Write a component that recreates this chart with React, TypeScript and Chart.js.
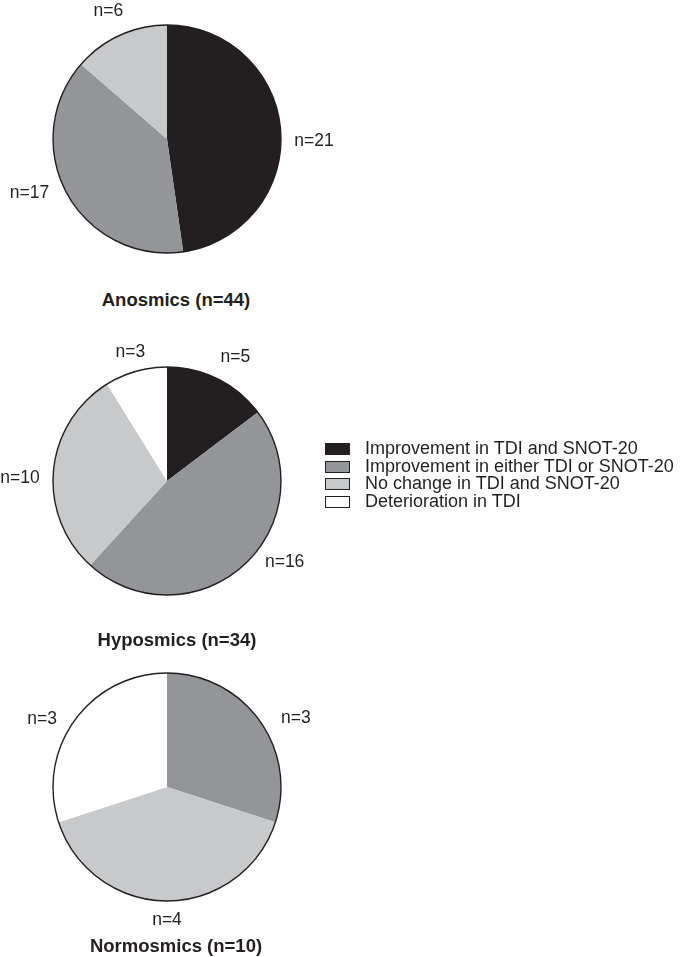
import React, { useEffect, useRef } from "react";
import { Chart, registerables } from "chart.js";

Chart.register(...registerables);

// ---- data ----
const CATEGORIES = [
  "Improvement in TDI and SNOT-20",
  "Improvement in either TDI or SNOT-20",
  "No change in TDI and SNOT-20",
  "Deterioration in TDI",
];
const COLORS = ["#231f20", "#939598", "#c8c9cb", "#ffffff"];
const GROUP_TITLES = ["Anosmics (n=44)", "Hyposmics (n=34)", "Normosmics (n=10)"];
const ANOSMICS = [21, 17, 6, 0];
const HYPOSMICS = [5, 16, 10, 3];
const NORMOSMICS = [0, 3, 4, 3];
const SERIES = [ANOSMICS, HYPOSMICS, NORMOSMICS];

// ---- layout / style ----
const INK = "#231f20";
const FONT = '"Liberation Sans", Arial, Helvetica, sans-serif';
const RADIUS = 114;
const CANVAS_W = 340;
const CANVAS_H = 300;
const PIE_CENTERS = [
  { x: 167, y: 139 },
  { x: 167, y: 481 },
  { x: 167, y: 787 },
];
const TITLE_POS = [
  { x: 176, y: 300 },
  { x: 177, y: 640 },
  { x: 176, y: 946 },
];
// label placement: [angle nudge (deg, clockwise), extra distance beyond radius]
const LABEL_NUDGE = [
  [[5, 33], [7, 34], [0, 27], [0, 28]],
  [[2.5, 27], [-13, 29], [-4, 33], [0, 20]],
  [[0, 28], [8, 32], [0, 19], [-7.5, 28]],
];

const outlineAndLabels = {
  id: "outlineAndLabels",
  afterDatasetsDraw(chart: any, _args: any, opts: any) {
    const ctx = chart.ctx;
    const meta = chart.getDatasetMeta(0);
    const arcs = meta.data;
    if (!arcs.length) return;
    const first = arcs[0] as any;
    ctx.save();
    ctx.beginPath();
    ctx.arc(first.x, first.y, first.outerRadius, 0, Math.PI * 2);
    ctx.lineWidth = 1.4;
    ctx.strokeStyle = INK;
    ctx.stroke();
    ctx.font = `17.5px ${FONT}`;
    ctx.fillStyle = INK;
    ctx.textAlign = "center";
    ctx.textBaseline = "middle";
    const values = chart.data.datasets[0].data as number[];
    arcs.forEach((arc: any, i: number) => {
      const v = values[i];
      if (!v) return;
      const nudge = opts.nudge[i] || [0, 28];
      const mid = (arc.startAngle + arc.endAngle) / 2 + (nudge[0] * Math.PI) / 180;
      const d = arc.outerRadius + nudge[1];
      ctx.fillText(`n=${v}`, arc.x + d * Math.cos(mid), arc.y + d * Math.sin(mid));
    });
    ctx.restore();
  },
};

function Pie({ index }: { index: number }) {
  const ref = useRef<HTMLCanvasElement | null>(null);
  const c = PIE_CENTERS[index];
  const top = c.y - CANVAS_H / 2;
  useEffect(() => {
    if (!ref.current) return;
    const chart = new Chart(ref.current, {
      type: "pie",
      data: {
        labels: CATEGORIES,
        datasets: [
          {
            data: SERIES[index],
            backgroundColor: COLORS,
            borderWidth: 0,
            hoverOffset: 0,
            radius: RADIUS,
          } as any,
        ],
      },
      options: {
        responsive: false,
        animation: false,
        events: [],
        layout: {
          padding: {
            left: c.x - RADIUS,
            right: CANVAS_W - c.x - RADIUS,
            top: CANVAS_H / 2 - RADIUS,
            bottom: CANVAS_H / 2 - RADIUS,
          },
        },
        plugins: {
          legend: { display: false },
          tooltip: { enabled: false },
          title: { display: false },
          outlineAndLabels: { nudge: LABEL_NUDGE[index] },
        } as any,
      },
      plugins: [outlineAndLabels],
    });
    return () => chart.destroy();
  }, [index]);
  return (
    <canvas
      ref={ref}
      width={CANVAS_W}
      height={CANVAS_H}
      style={{ position: "absolute", left: 0, top, width: CANVAS_W, height: CANVAS_H }}
    />
  );
}

export default function App() {
  return (
    <div
      style={{
        position: "absolute",
        left: 0,
        top: 0,
        width: 685,
        height: 957,
        background: "#ffffff",
        overflow: "hidden",
        fontFamily: FONT,
        color: INK,
      }}
    >
      {SERIES.map((_, i) => (
        <Pie key={i} index={i} />
      ))}
      {GROUP_TITLES.map((t, i) => (
        <div
          key={t}
          style={{
            position: "absolute",
            left: TITLE_POS[i].x - 120,
            width: 240,
            top: TITLE_POS[i].y - 11,
            height: 22,
            lineHeight: "22px",
            textAlign: "center",
            fontWeight: "bold",
            fontSize: 18.5,
          }}
        >
          {t}
        </div>
      ))}
      <div style={{ position: "absolute", left: 325, top: 440 }}>
        {CATEGORIES.map((cat, i) => (
          <div
            key={cat}
            style={{ display: "flex", alignItems: "center", height: 17.7, whiteSpace: "nowrap" }}
          >
            <div
              style={{
                width: 25,
                height: 12,
                boxSizing: "border-box",
                border: `1px solid ${INK}`,
                background: COLORS[i],
                marginRight: 15,
                flex: "none",
              }}
            />
            <span style={{ fontSize: 18, lineHeight: "17.7px" }}>{cat}</span>
          </div>
        ))}
      </div>
    </div>
  );
}
